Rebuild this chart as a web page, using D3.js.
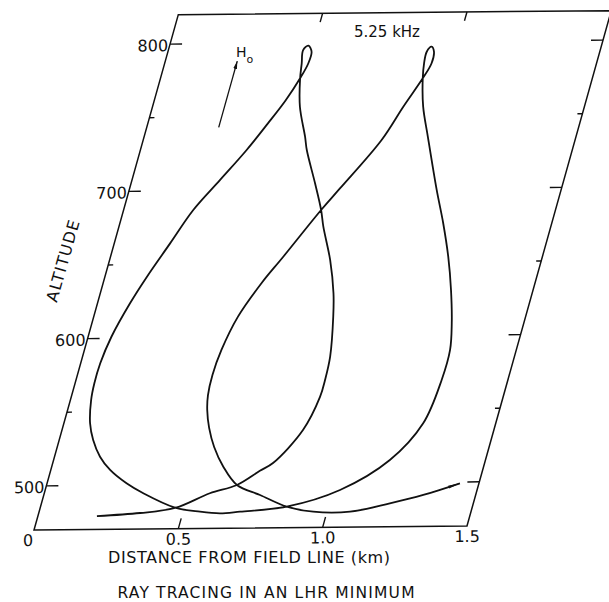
<!DOCTYPE html>
<html>
<head>
<meta charset="utf-8">
<script src="https://cdn.jsdelivr.net/npm/d3@7"></script>
<style>
body { margin: 0; background: #fff; }
text { font-family: "DejaVu Sans", sans-serif; fill: #111; }
</style>
</head>
<body>
<div id="chart"></div>
<script>
// ray path: distance from field line (km) and altitude
var rayKm = [0.205, 0.352, 0.468, 0.575, 0.661, 0.727, 0.765, 0.837, 0.864, 0.865,
    0.860, 0.832, 0.810, 0.766, 0.710, 0.686, 0.639, 0.578, 0.559, 0.512,
    0.485, 0.476, 0.468, 0.482, 0.499, 0.499, 0.485, 0.456, 0.417, 0.369,
    0.306, 0.242, 0.194, 0.146, 0.113, 0.081, 0.068, 0.067, 0.072, 0.091,
    0.118, 0.158, 0.206, 0.276, 0.344, 0.468, 0.559, 0.630, 0.698, 0.855,
    1.024, 1.168, 1.248, 1.270, 1.270, 1.250, 1.215, 1.173, 1.123, 1.068,
    0.986, 0.940, 0.911, 0.901, 0.899, 0.911, 0.924, 0.927, 0.911, 0.871,
    0.828, 0.731, 0.686, 0.600, 0.550, 0.501, 0.476, 0.469, 0.473, 0.485,
    0.509, 0.545, 0.596, 0.661, 0.751, 0.855, 0.952, 1.080, 1.210, 1.318,
    1.434];
var rayAlt = [479.1, 480.9, 484.1, 493.9, 499.4, 508.9, 514.1, 536.4, 558.8, 570.3,
    586.2, 613.3, 629.3, 652.0, 674.7, 686.1, 704.3, 727.0, 736.1, 756.5,
    775.9, 786.1, 795.1, 798.1, 793.9, 786.1, 775.9, 760.9, 745.4, 727.4,
    707.2, 686.9, 664.3, 641.8, 623.8, 601.1, 583.1, 569.5, 558.2, 542.3,
    530.9, 519.5, 510.4, 501.2, 494.3, 484.3, 481.4, 480.2, 481.2, 484.3,
    495.3, 515.4, 540.2, 569.6, 590.0, 608.1, 630.8, 653.5, 676.3, 699.0,
    735.1, 755.8, 775.1, 785.3, 793.2, 796.6, 793.2, 785.3, 775.1, 755.9,
    733.4, 700.8, 686.1, 654.5, 636.6, 614.0, 591.4, 574.5, 560.8, 550.6,
    538.4, 525.4, 511.9, 499.4, 492.4, 484.3, 480.7, 480.5, 485.9, 491.4,
    499.1];

var altTicks = [500, 600, 700, 800];
var altMinorTicks = [550, 650, 750];
var kmTicks = [0, 0.5, 1.0, 1.5];
var kmTickLabels = ["0", "0.5", "1.0", "1.5"];
var fieldArrowKm = [0.25, 0.25];
var fieldArrowAlt = [743, 788];

var width = 609, height = 602;
var x0 = 34, y0 = 530, skew = 0.29, tilt = -0.53;

var x = d3.scaleLinear().domain([0, 1.5]).range([0, 433]);
var y = d3.scaleLinear().domain([470, 820]).range([0, 514]);

// oblique frame: altitude runs along the field line
function px(km, alt) { return x(km) + skew * y(alt); }
function py(alt) { return -y(alt); }

var svg = d3.select("#chart").append("svg")
    .attr("width", width)
    .attr("height", height)
    .style("background", "#fff");

var defs = svg.append("defs");
defs.append("marker")
    .attr("id", "rayHead")
    .attr("markerUnits", "userSpaceOnUse")
    .attr("viewBox", "0 0 12 6")
    .attr("refX", 12).attr("refY", 3)
    .attr("markerWidth", 12).attr("markerHeight", 6)
    .attr("orient", "auto")
    .append("path").attr("d", "M0,1.6L12,3L0,4.4Z").attr("fill", "#111");
defs.append("marker")
    .attr("id", "fieldHead")
    .attr("markerUnits", "userSpaceOnUse")
    .attr("viewBox", "0 0 8 5")
    .attr("refX", 8).attr("refY", 2.5)
    .attr("markerWidth", 8).attr("markerHeight", 5)
    .attr("orient", "auto")
    .append("path").attr("d", "M0,0.6L8,2.5L0,4.4Z").attr("fill", "#111");

var g = svg.append("g")
    .attr("transform", "translate(" + x0 + "," + y0 + ") rotate(" + tilt + ")");

var corners = [[0, 470], [1.5, 470], [1.5, 820], [0, 820]];
g.append("path")
    .attr("d", "M" + corners.map(function(c) { return px(c[0], c[1]) + "," + py(c[1]); }).join("L") + "Z")
    .attr("fill", "none")
    .attr("stroke", "#111")
    .attr("stroke-width", 1.5);

// altitude ticks on both slanted sides
var ticks = [];
altTicks.forEach(function(a) { ticks.push({alt: a, len: 12}); });
altMinorTicks.forEach(function(a) { ticks.push({alt: a, len: 5}); });

g.selectAll(".tick-left").data(ticks).enter().append("line")
    .attr("x1", function(d) { return px(0, d.alt); })
    .attr("x2", function(d) { return px(0, d.alt) + d.len; })
    .attr("y1", function(d) { return py(d.alt); })
    .attr("y2", function(d) { return py(d.alt); })
    .attr("stroke", "#111").attr("stroke-width", 1.4);

g.selectAll(".tick-right").data(ticks).enter().append("line")
    .attr("x1", function(d) { return px(1.5, d.alt); })
    .attr("x2", function(d) { return px(1.5, d.alt) - d.len; })
    .attr("y1", function(d) { return py(d.alt); })
    .attr("y2", function(d) { return py(d.alt); })
    .attr("stroke", "#111").attr("stroke-width", 1.4);

g.selectAll(".alt-label").data(altTicks).enter().append("text")
    .attr("x", function(d) { return px(0, d) - 2; })
    .attr("y", function(d) { return py(d) + 7; })
    .attr("text-anchor", "end")
    .style("font-size", "16px")
    .text(function(d) { return d; });

// distance ticks on bottom and top edges
var innerKm = kmTicks.filter(function(k) { return k > 0 && k < 1.5; });
g.selectAll(".tick-bottom").data(innerKm).enter().append("line")
    .attr("x1", function(d) { return px(d, 470); })
    .attr("y1", py(470))
    .attr("x2", function(d) { return px(d, 477); })
    .attr("y2", py(477))
    .attr("stroke", "#111").attr("stroke-width", 1.4);
g.selectAll(".tick-top").data(innerKm).enter().append("line")
    .attr("x1", function(d) { return px(d, 820); })
    .attr("y1", py(820))
    .attr("x2", function(d) { return px(d, 814); })
    .attr("y2", py(814))
    .attr("stroke", "#111").attr("stroke-width", 1.4);

g.selectAll(".km-label").data(kmTicks).enter().append("text")
    .attr("x", function(d, i) { return px(d, 470) + (i === 0 ? -1 : 0); })
    .attr("y", 16)
    .attr("text-anchor", function(d, i) { return i === 0 ? "end" : "middle"; })
    .style("font-size", "16px")
    .text(function(d, i) { return kmTickLabels[i]; });

// the ray
var line = d3.line()
    .x(function(i) { return px(rayKm[i], rayAlt[i]); })
    .y(function(i) { return py(rayAlt[i]); })
    .curve(d3.curveCatmullRom.alpha(0.5));

g.append("path")
    .attr("d", line(d3.range(rayKm.length)))
    .attr("fill", "none")
    .attr("stroke", "#111")
    .attr("stroke-width", 1.8)
    .attr("stroke-linejoin", "round")
    .attr("marker-end", "url(#rayHead)");

// field direction arrow
g.append("line")
    .attr("x1", px(fieldArrowKm[0], fieldArrowAlt[0]))
    .attr("y1", py(fieldArrowAlt[0]))
    .attr("x2", px(fieldArrowKm[1], fieldArrowAlt[1]))
    .attr("y2", py(fieldArrowAlt[1]))
    .attr("stroke", "#111")
    .attr("stroke-width", 1.3)
    .attr("marker-end", "url(#fieldHead)");

var h0 = svg.append("text")
    .attr("x", 236)
    .attr("y", 57)
    .style("font-size", "14px");
h0.append("tspan").text("H");
h0.append("tspan").attr("dy", 6).style("font-size", "11px").text("o");

svg.append("text")
    .attr("x", 387)
    .attr("y", 37)
    .attr("text-anchor", "middle")
    .style("font-size", "15px")
    .text("5.25 kHz");

svg.append("text")
    .attr("transform", "translate(63,261) rotate(-74)")
    .attr("text-anchor", "middle")
    .attr("dominant-baseline", "central")
    .attr("textLength", 84)
    .attr("lengthAdjust", "spacing")
    .style("font-size", "16px")
    .text("ALTITUDE");

svg.append("text")
    .attr("x", 249)
    .attr("y", 563)
    .attr("text-anchor", "middle")
    .attr("textLength", 282)
    .attr("lengthAdjust", "spacing")
    .style("font-size", "16px")
    .text("DISTANCE FROM FIELD LINE (km)");

svg.append("text")
    .attr("x", 266)
    .attr("y", 598)
    .attr("text-anchor", "middle")
    .attr("textLength", 297)
    .attr("lengthAdjust", "spacing")
    .style("font-size", "15.5px")
    .text("RAY TRACING IN AN LHR MINIMUM");
</script>
</body>
</html>
